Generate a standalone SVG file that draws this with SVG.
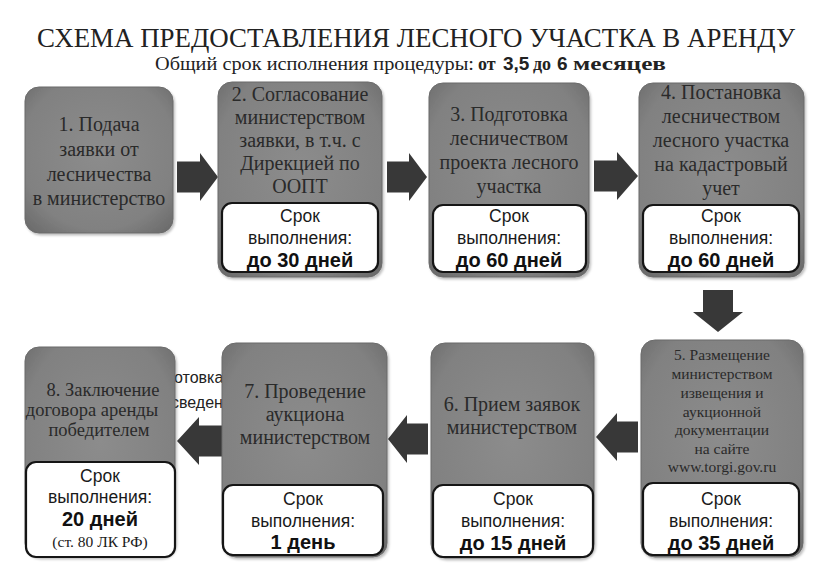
<svg xmlns="http://www.w3.org/2000/svg" width="836" height="583" viewBox="0 0 836 583">
<defs>
  <radialGradient id="gbox" cx="50%" cy="45%" r="70%">
    <stop offset="0" stop-color="#8c8c8c"/>
    <stop offset="0.75" stop-color="#818181"/>
    <stop offset="1" stop-color="#6c6c6c"/>
  </radialGradient>
  <filter id="sh" x="-10%" y="-10%" width="125%" height="125%">
    <feDropShadow dx="1.5" dy="2" stdDeviation="1.2" flood-color="#000" flood-opacity="0.25"/>
  </filter>
  <clipPath id="gap"><rect x="175" y="360" width="47" height="60"/></clipPath>
</defs>
<style>
  .box { fill: url(#gbox); stroke: #6b6b6b; stroke-width: 1; filter: url(#sh); }
  .sub { fill: #ffffff; stroke: #151515; stroke-width: 2.2; }
  .t { font-family: "Liberation Serif", "DejaVu Serif", serif; font-size: 20px; fill: #2a2a2a; text-anchor: middle; }
  .t8 { font-family: "Liberation Serif", "DejaVu Serif", serif; font-size: 18.5px; fill: #2a2a2a; text-anchor: middle; }
  .t5 { font-family: "Liberation Serif", "DejaVu Serif", serif; font-size: 15.5px; fill: #2a2a2a; text-anchor: middle; }
  .s { font-family: "Liberation Sans", Arial, sans-serif; font-size: 17.5px; fill: #1a1a1a; text-anchor: middle; }
  .b { font-family: "Liberation Sans", Arial, sans-serif; font-size: 20px; font-weight: bold; fill: #111; text-anchor: middle; }
  .n { font-family: "Liberation Serif", "DejaVu Serif", serif; font-size: 15.5px; fill: #1a1a1a; text-anchor: middle; }
  .arr { fill: #383838; }
  .frag { font-family: "Liberation Sans", Arial, sans-serif; font-size: 16px; fill: #222; }
</style>
<rect width="836" height="583" fill="#ffffff"/>

<text x="37" y="47" font-family="Liberation Serif, serif" font-size="28" fill="#222" textLength="758" lengthAdjust="spacingAndGlyphs">СХЕМА ПРЕДОСТАВЛЕНИЯ ЛЕСНОГО УЧАСТКА В АРЕНДУ</text>
<g font-size="18" fill="#222">
  <text x="155" y="70" font-family="Liberation Serif, serif" textLength="319" lengthAdjust="spacingAndGlyphs">Общий срок исполнения процедуры:</text>
  <text x="478" y="70" font-family="Liberation Serif, serif" font-weight="bold">от</text>
  <text x="503" y="70" font-family="Liberation Sans, sans-serif" font-weight="bold" font-size="19">3,5</text>
  <text x="533" y="70" font-family="Liberation Serif, serif" font-weight="bold">до</text>
  <text x="557" y="70" font-family="Liberation Sans, sans-serif" font-weight="bold" font-size="19">6</text>
  <text x="573" y="70" font-family="Liberation Serif, serif" font-weight="bold" textLength="93" lengthAdjust="spacingAndGlyphs">месяцев</text>
</g>

<g clip-path="url(#gap)">
  <text class="frag" x="174" y="383">отовка</text>
  <text class="frag" x="171" y="408">сведен</text>
</g>

<g id="connectors">
  <path class="arr" d="M177,161.5 H200 V153 L218,177 L200,201 V192.5 H177 Z"/>
  <path class="arr" d="M387,161.5 H409 V153 L427,177 L409,201 V192.5 H387 Z"/>
  <path class="arr" d="M594,160.5 H617 V152 L638,176 L617,200 V191.5 H594 Z"/>
  <path class="arr" d="M703,290 H733 V312 H743 L718,332 L693,312 H703 Z"/>
  <path class="arr" d="M638,421.5 H617 V413 L596,437 L617,461 V452.5 H638 Z"/>
  <path class="arr" d="M428,423.5 H407 V415 L388,439 L407,463 V454.5 H428 Z"/>
  <path class="arr" d="M222,425.5 H199 V417 L177,441 L199,465 V456.5 H222 Z"/>
</g>

<g id="n1">
  <rect class="box" x="25" y="87" width="148" height="146" rx="14"/>
  <text class="t" x="99" y="131">1. Подача</text>
  <text class="t" x="99" y="156">заявки от</text>
  <text class="t" x="99" y="181">лесничества</text>
  <text class="t" x="99" y="205">в министерство</text>
</g>

<g id="n2">
  <rect class="box" x="218" y="82" width="164" height="195" rx="14"/>
  <text class="t" x="300" y="101">2. Согласование</text>
  <text class="t" x="300" y="124">министерством</text>
  <text class="t" x="300" y="147">заявки, в т.ч. с</text>
  <text class="t" x="300" y="170">Дирекцией по</text>
  <text class="t" x="300" y="193">ООПТ</text>
  <rect class="sub" x="222" y="203" width="156" height="69" rx="10"/>
  <text class="s" x="300" y="222">Срок</text>
  <text class="s" x="300" y="244">выполнения:</text>
  <text class="b" x="300" y="267">до 30 дней</text>
</g>

<g id="n3">
  <rect class="box" x="429" y="83" width="160" height="194" rx="14"/>
  <text class="t" x="509" y="121">3. Подготовка</text>
  <text class="t" x="509" y="145">лесничеством</text>
  <text class="t" x="509" y="169">проекта лесного</text>
  <text class="t" x="509" y="193">участка</text>
  <rect class="sub" x="433" y="205" width="153" height="67" rx="10"/>
  <text class="s" x="509" y="222">Срок</text>
  <text class="s" x="509" y="244">выполнения:</text>
  <text class="b" x="509" y="267">до 60 дней</text>
</g>

<g id="n4">
  <rect class="box" x="639" y="83" width="165" height="194" rx="14"/>
  <text class="t" x="721" y="99">4. Постановка</text>
  <text class="t" x="721" y="123">лесничеством</text>
  <text class="t" x="721" y="147">лесного участка</text>
  <text class="t" x="721" y="171">на кадастровый</text>
  <text class="t" x="721" y="195">учет</text>
  <rect class="sub" x="643" y="205" width="156" height="67" rx="10"/>
  <text class="s" x="721" y="222">Срок</text>
  <text class="s" x="721" y="244">выполнения:</text>
  <text class="b" x="721" y="267">до 60 дней</text>
</g>

<g id="n5">
  <rect class="box" x="641" y="340" width="162" height="217" rx="14"/>
  <text class="t5" x="722" y="360">5. Размещение</text>
  <text class="t5" x="722" y="379">министерством</text>
  <text class="t5" x="722" y="398">извещения и</text>
  <text class="t5" x="722" y="417">аукционной</text>
  <text class="t5" x="722" y="435">документации</text>
  <text class="t5" x="722" y="454">на сайте</text>
  <text class="t5" x="722" y="472">www.torgi.gov.ru</text>
  <rect class="sub" x="643" y="483" width="156" height="72" rx="10"/>
  <text class="s" x="721" y="505">Срок</text>
  <text class="s" x="721" y="527">выполнения:</text>
  <text class="b" x="721" y="550">до 35 дней</text>
</g>

<g id="n6">
  <rect class="box" x="431" y="343" width="163" height="215" rx="14"/>
  <text class="t" x="512" y="411">6. Прием заявок</text>
  <text class="t" x="512" y="434">министерством</text>
  <rect class="sub" x="433" y="485" width="160" height="72" rx="10"/>
  <text class="s" x="513" y="505">Срок</text>
  <text class="s" x="513" y="527">выполнения:</text>
  <text class="b" x="513" y="550">до 15 дней</text>
</g>

<g id="n7">
  <rect class="box" x="222" y="343" width="165" height="214" rx="14"/>
  <text class="t" x="305" y="398">7. Проведение</text>
  <text class="t" x="305" y="421">аукциона</text>
  <text class="t" x="305" y="444">министерством</text>
  <rect class="sub" x="223" y="485" width="160" height="70" rx="10"/>
  <text class="s" x="303" y="505">Срок</text>
  <text class="s" x="303" y="527">выполнения:</text>
  <text class="b" x="303" y="549">1 день</text>
</g>

<g id="n8">
  <rect class="box" x="25" y="347" width="150" height="210" rx="14"/>
  <text class="t8" x="103" y="396">8. Заключение</text>
  <text class="t8" x="92" y="416">договора аренды</text>
  <text class="t8" x="99" y="436">победителем</text>
  <rect class="sub" x="26" y="462" width="149" height="95" rx="10"/>
  <text class="s" x="100" y="482">Срок</text>
  <text class="s" x="100" y="503">выполнения:</text>
  <text class="b" x="100" y="526">20 дней</text>
  <text class="n" x="100" y="547">(ст. 80 ЛК РФ)</text>
</g>
</svg>
